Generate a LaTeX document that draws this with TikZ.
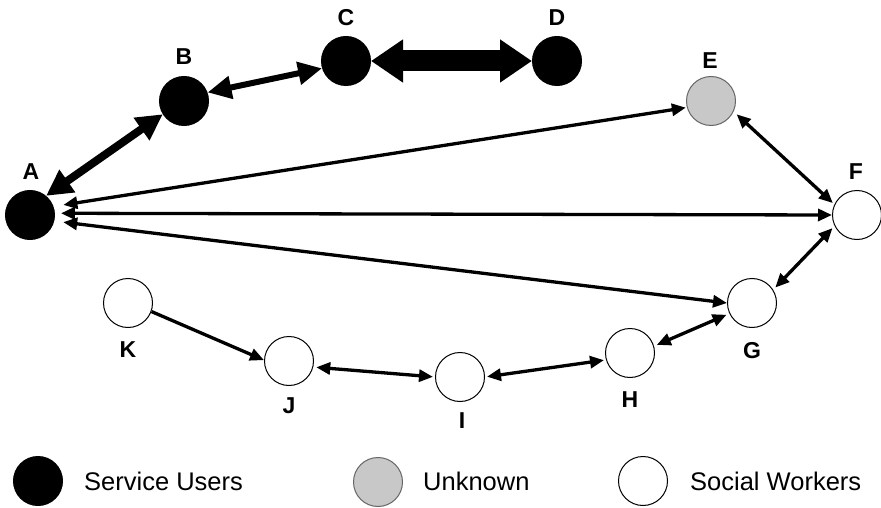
\documentclass[tikz,border=0pt]{standalone}
\usepackage{fontspec}
\setmainfont{Liberation Sans}
\usetikzlibrary{arrows.meta}
\definecolor{unk}{RGB}{200,200,200}
\begin{document}
\begin{tikzpicture}[x=1pt,y=-1pt,
  su/.style={circle,fill=black,draw=black,line width=1pt,minimum size=49pt,inner sep=0pt},
  uk/.style={su,fill=unk,draw=black!60},
  sw/.style={su,fill=white},
  lbl/.style={font=\fontsize{23}{23}\selectfont\bfseries,inner sep=0pt},
  leg/.style={font=\fontsize{25.5}{25.5}\selectfont,inner sep=0pt,anchor=west},
  link/.style={line width=3.3pt,>={Triangle[length=14pt,width=12pt]}},
  ablink/.style={line width=8pt,>={Triangle[length=26pt,width=26pt]},<->},
  bclink/.style={line width=6pt,>={Triangle[length=24pt,width=22pt]},<->},
  cdlink/.style={line width=21pt,>={Triangle[length=32pt,width=41pt]},<->}
]
\useasboundingbox (0,0) rectangle (881,508);
% nodes
\node[su] (A) at (30,215) {};
\node[su] (B) at (184,101) {};
\node[su] (C) at (346,61) {};
\node[su] (D) at (557,61) {};
\node[uk] (E) at (711,101) {};
\node[sw] (F) at (857,215) {};
\node[sw] (G) at (752,303) {};
\node[sw] (H) at (630,353) {};
\node[sw] (I) at (460,377) {};
\node[sw] (J) at (289,361) {};
\node[sw] (K) at (128,303) {};
% labels
\node[lbl] (lA) at (31,172) {A};
\node[lbl] (lB) at (184,57) {B};
\node[lbl] (lC) at (346,18) {C};
\node[lbl] (lD) at (557,18) {D};
\node[lbl] (lE) at (710,61) {E};
\node[lbl] (lF) at (856,172) {F};
\node[lbl] (lG) at (752,351) {G};
\node[lbl] (lH) at (630,400) {H};
\node[lbl] (lI) at (462,421) {I};
\node[lbl] (lJ) at (289,406) {J};
\node[lbl] (lK) at (128,350) {K};
% connectors
\draw[cdlink] (C.east) -- (D.west);
\draw[ablink] (A.50) -- (B.212);
\draw[bclink] (B.20) -- (C.197);
\draw[link,<->,shorten <=10pt,shorten >=1pt] (A.20) -- (E.195);
\draw[link,<->,shorten <=6pt] (A.4) -- (F.180);
\draw[link,<->,shorten <=9pt] (A.-14) -- (G.180);
\draw[link,<->,shorten <=4pt,shorten >=2pt] (E.-25) -- (F.155);
\draw[link,<->,shorten <=3pt,shorten >=3pt] (F.206) -- (G.32);
\draw[link,<->,shorten <=3pt,shorten >=3pt] (G.205) -- (H.16);
\draw[link,<->,shorten <=2pt,shorten >=2pt] (H.196) -- (I.0);
\draw[link,<->,shorten <=2pt,shorten >=3pt] (I.180) -- (J.-14);
\draw[link,->] (K.-20) -- (J.178);
% legend
\node[su] (L1) at (38,481) {};
\node[leg] (T1) at (84,481.5) {Service Users};
\node[uk] (L2) at (378,482) {};
\node[leg] (T2) at (423,481.5) {Unknown};
\node[sw] (L3) at (643,481) {};
\node[leg] (T3) at (690,481.5) {Social Workers};
\end{tikzpicture}
\end{document}
